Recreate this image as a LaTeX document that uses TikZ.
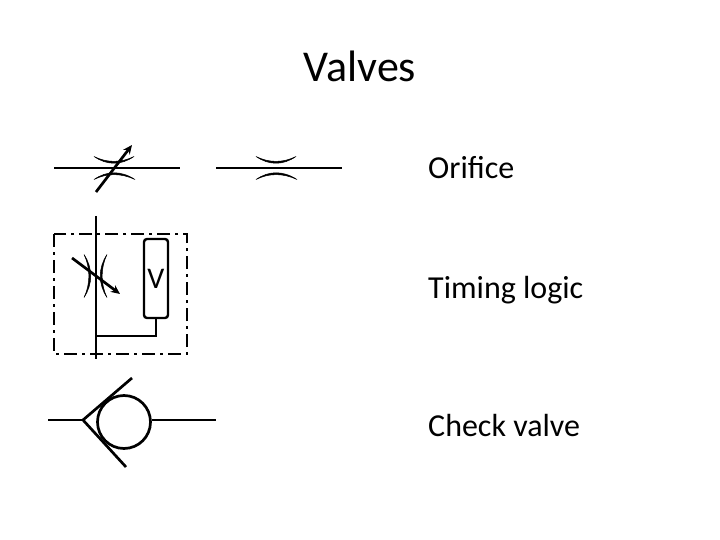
\documentclass[tikz,border=0pt]{standalone}
\usepackage{fontspec}
\setmainfont{Carlito}
\usetikzlibrary{arrows.meta}
\tikzset{
  pipe/.style={line width=2.7pt,black},
  crescent/.style={fill=black,draw=black,line width=0.5pt,line join=round},
  adjust/.style={line width=2.7pt,black,-{Stealth[length=9pt,width=8pt]}},
  labeltext/.style={anchor=base west,inner sep=0pt,font=\fontsize{32}{38}\selectfont,text=black},
  titletext/.style={anchor=base,inner sep=0pt,font=\fontsize{44}{52}\selectfont,text=black}
}
\begin{document}
\begin{tikzpicture}[x=1pt,y=-1pt]
\useasboundingbox (0,0) rectangle (720,540);
\node[titletext] (title) at (360,82) {Valves};
\node[labeltext] (l1) at (428,178.5) {Orifice};
\node[labeltext] (l2) at (428,298) {Timing logic};
\node[labeltext] (l3) at (428,436.5) {Check valve};
% variable orifice
\coordinate (a1) at (54,168); \coordinate (a2) at (180,168);
\draw[pipe] (a1) -- (a2);
\draw[crescent] (94,156.5) .. controls (107,165.5) and (121,165.5) .. (134,156.5) .. controls (121,163) and (107,163) .. cycle;
\draw[crescent] (94,179.5) .. controls (107,170.5) and (121,170.5) .. (135,179.5) .. controls (121,173) and (107,173) .. cycle;
\coordinate (a3) at (96,192); \coordinate (a4) at (132,145);
\draw[adjust] (a3) -- (a4);
% fixed orifice
\coordinate (b1) at (216,168); \coordinate (b2) at (342,168);
\draw[pipe] (b1) -- (b2);
\draw[crescent] (256,156.5) .. controls (269,165.5) and (283,165.5) .. (296,156.5) .. controls (283,163) and (269,163) .. cycle;
\draw[crescent] (256,179.5) .. controls (269,170.5) and (283,170.5) .. (297,179.5) .. controls (283,173) and (269,173) .. cycle;
% timing logic
\draw[line width=2.7pt,dash pattern=on 13pt off 5pt on 3pt off 5pt] (54,234) rectangle (187,354);
\coordinate (c1) at (96,216); \coordinate (c2) at (96,359);
\draw[pipe] (c1) -- (c2);
\node[draw,line width=2.4pt,rounded corners=3pt,minimum width=24pt,minimum height=79pt,inner sep=0pt,anchor=center,font=\fontsize{30}{34}\selectfont] (v) at (156,278.5) {V};
\coordinate (c3) at (96,336);
\draw[pipe] (v.south) |- (c3);
\draw[crescent] (84,254.5) .. controls (93,268) and (93,284) .. (84,297.5) .. controls (90.5,284) and (90.5,268) .. cycle;
\draw[crescent] (107,254.5) .. controls (98,268) and (98,284) .. (107,297.5) .. controls (100.5,284) and (100.5,268) .. cycle;
\coordinate (c4) at (72,258); \coordinate (c5) at (120,294);
\draw[adjust] (c4) -- (c5);
% check valve
\coordinate (d1) at (48,420); \coordinate (d2) at (83,420);
\coordinate (d3) at (132,378); \coordinate (d4) at (126,467); \coordinate (d5) at (216,420);
\draw[pipe] (d1) -- (d2);
\draw[pipe] (d3) -- (d2) -- (d4);
\node[draw,circle,line width=2.7pt,minimum size=53pt,inner sep=0pt] (ball) at (124,422) {};
\draw[pipe] (ball.east |- d5) -- (d5);
\end{tikzpicture}
\end{document}
